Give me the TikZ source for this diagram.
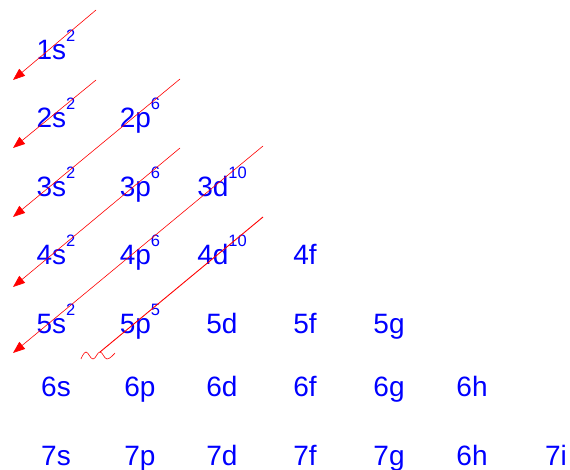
\documentclass[tikz,border=0pt]{standalone}
\usepackage{fontspec}
\setmainfont{Liberation Sans}
\usetikzlibrary{arrows.meta}
\newcommand\orbsup[1]{\raisebox{18pt}{\fontsize{16.5}{17}\selectfont #1}}
\begin{document}
\begin{tikzpicture}[x=1pt,y=-1pt,
  orb/.style={text=blue, font=\fontsize{28}{30}\selectfont, inner sep=0pt, anchor=base},
  diag/.style={red, line width=0.6pt},
  diagarr/.style={diag, -{Triangle[length=12pt,width=9pt]}},
  diagbold/.style={red, line width=0.9pt}]
\useasboundingbox (0,0) rectangle (570,470);
% row 1
\node[orb] (n1s) at (56,60) {1s\orbsup{2}};
% row 2
\node[orb] (n2s) at (56,128) {2s\orbsup{2}};
\node[orb] (n2p) at (140,128) {2p\orbsup{6}};
% row 3
\node[orb] (n3s) at (56,197) {3s\orbsup{2}};
\node[orb] (n3p) at (140,197) {3p\orbsup{6}};
\node[orb] (n3d) at (222,197) {3d\orbsup{10}};
% row 4
\node[orb] (n4s) at (56,265) {4s\orbsup{2}};
\node[orb] (n4p) at (140,265) {4p\orbsup{6}};
\node[orb] (n4d) at (222,265) {4d\orbsup{10}};
\node[orb] (n4f) at (305,265) {4f};
% row 5
\node[orb] (n5s) at (56,333) {5s\orbsup{2}};
\node[orb] (n5p) at (140,333) {5p\orbsup{5}};
\node[orb] (n5d) at (222,333) {5d};
\node[orb] (n5f) at (305,333) {5f};
\node[orb] (n5g) at (389,333) {5g};
% row 6
\node[orb] (n6s) at (56,396) {6s};
\node[orb] (n6p) at (140,396) {6p};
\node[orb] (n6d) at (222,396) {6d};
\node[orb] (n6f) at (305,396) {6f};
\node[orb] (n6g) at (389,396) {6g};
\node[orb] (n6h) at (472,396) {6h};
% row 7
\node[orb] (n7s) at (56,465) {7s};
\node[orb] (n7p) at (140,465) {7p};
\node[orb] (n7d) at (222,465) {7d};
\node[orb] (n7f) at (305,465) {7f};
\node[orb] (n7g) at (389,465) {7g};
\node[orb] (n7h) at (472,465) {6h};
\node[orb] (n7i) at (556,465) {7i};
% diagonal arrow end points
\coordinate (a1) at (96,10);   \coordinate (t1) at (13,80);
\coordinate (a2) at (96,80);   \coordinate (t2) at (13,148);
\coordinate (a3) at (180,79);  \coordinate (t3) at (13,217);
\coordinate (a4) at (180,148); \coordinate (t4) at (13,287);
\coordinate (a5) at (263,146); \coordinate (t5) at (13,353);
\coordinate (a6) at (263,217); \coordinate (e6) at (100,352);
\draw[diagarr] (a1) -- (t1);
\draw[diagarr] (a2) -- (t2);
\draw[diagarr] (a3) -- (t3);
\draw[diagarr] (a4) -- (t4);
\draw[diagarr] (a5) -- (t5);
\draw[diagbold] (a6) -- (e6);
% squiggle
\draw[diag] plot[smooth, tension=0.7] coordinates {(81,359) (86,352) (93,359) (100,352) (107,359) (115,353)};
\end{tikzpicture}
\end{document}
